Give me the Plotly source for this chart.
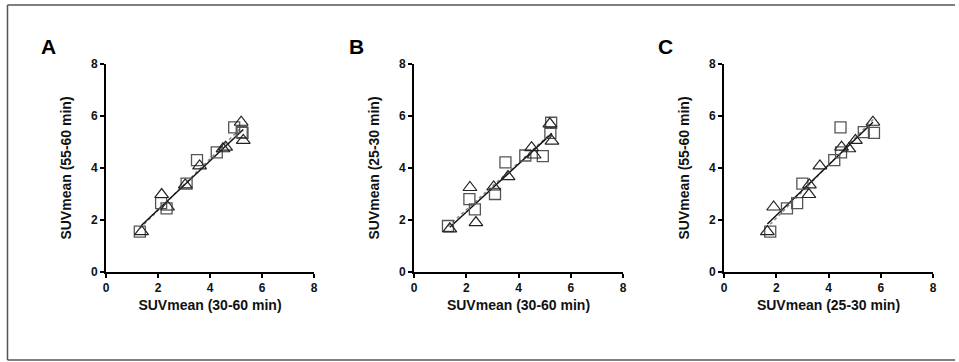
import numpy as np
import plotly.graph_objects as go

# Square group: SUVmean at 30-60 min, 25-30 min, 55-60 min
sq_30_60 = [1.30, 2.12, 2.33, 3.10, 3.50, 4.26, 4.93, 5.22, 5.25]
sq_25_30 = [1.77, 2.80, 2.41, 3.00, 4.22, 4.48, 4.46, 5.35, 5.74]
sq_55_60 = [1.55, 2.65, 2.45, 3.40, 4.30, 4.60, 5.56, 5.38, 5.35]

# Triangle group
tr_30_60 = [1.37, 2.14, 2.37, 3.05, 3.60, 4.50, 4.60, 5.20, 5.28]
tr_25_30 = [1.66, 3.25, 1.90, 3.27, 3.67, 4.78, 4.50, 5.70, 5.03]
tr_55_60 = [1.55, 2.98, 2.50, 3.35, 4.08, 4.74, 4.80, 5.76, 5.06]

tick_vals = [0, 2, 4, 6, 8]
tick_text = ["0", "2", "4", "6", "8"]

panels = [
    ("A", sq_30_60, sq_55_60, tr_30_60, tr_55_60, "SUVmean (30-60 min)", "SUVmean (55-60 min)"),
    ("B", sq_30_60, sq_25_30, tr_30_60, tr_25_30, "SUVmean (30-60 min)", "SUVmean (25-30 min)"),
    ("C", sq_25_30, sq_55_60, tr_25_30, tr_55_60, "SUVmean (25-30 min)", "SUVmean (55-60 min)"),
]

W, H = 959, 362
x_px = [(106, 314), (414, 623), (724, 933)]
y_px = (64, 272)
letter_x = [39, 347, 656]


def fx(px):
    return px / W


def fy(py):
    return 1 - py / H


FONT = "Liberation Sans, Arial, sans-serif"
fig = go.Figure()
layout = dict(
    width=W, height=H, margin=dict(l=0, r=0, t=0, b=0, pad=0, autoexpand=False),
    paper_bgcolor="white", plot_bgcolor="white", showlegend=False,
    font=dict(family=FONT, color="#111"),
)
annotations = []
shapes = []

for i, (letter, sx, sy, tx, ty, xt, yt) in enumerate(panels):
    n = "" if i == 0 else str(i + 1)
    xa, ya = "x" + n, "y" + n
    # regression lines per group
    for gx, gy, col, dash in [(sx, sy, "#888888", "dot"), (tx, ty, "#111111", "solid")]:
        k, b = np.polyfit(gx, gy, 1)
        lx = np.array([min(gx), max(gx)])
        fig.add_trace(go.Scatter(x=lx, y=k * lx + b, mode="lines",
                                 line=dict(color=col, width=1.5, dash=dash),
                                 xaxis=xa, yaxis=ya, hoverinfo="skip"))
    fig.add_trace(go.Scatter(x=sx, y=sy, mode="markers",
                             marker=dict(symbol="square-open", size=11, color="#555555",
                                         line=dict(width=1.3, color="#555555")),
                             xaxis=xa, yaxis=ya))
    fig.add_trace(go.Scatter(x=tx, y=ty, mode="markers",
                             marker=dict(symbol="triangle-up-open", size=12, color="#222222",
                                         line=dict(width=1.2, color="#222222")),
                             xaxis=xa, yaxis=ya))
    ax_common = dict(range=[0, 8], tickvals=tick_vals,
                     ticktext=["<b>%s</b>" % t for t in tick_text],
                     showgrid=False, zeroline=False, showline=True, linecolor="black",
                     linewidth=2, ticks="outside", ticklen=4, tickwidth=2, tickcolor="black",
                     tickfont=dict(family=FONT, size=12, color="#111"), fixedrange=True,
                     automargin=False)
    layout["xaxis" + n] = dict(ax_common, domain=[fx(x_px[i][0]), fx(x_px[i][1])],
                               anchor=ya,
                               title=dict(text="<b>%s</b>" % xt, standoff=6,
                                          font=dict(family=FONT, size=14, color="#111")))
    layout["yaxis" + n] = dict(ax_common, domain=[fy(y_px[1]), fy(y_px[0])],
                               anchor=xa,
                               title=dict(text="<b>%s</b>" % yt, standoff=16,
                                          font=dict(family=FONT, size=14, color="#111")))
    annotations.append(dict(text="<b>%s</b>" % letter, x=fx(letter_x[i]), y=fy(46),
                            xref="paper", yref="paper", xanchor="left", yanchor="middle",
                            showarrow=False, font=dict(family=FONT, size=21, color="black")))

# frame
for (x0, y0, x1, y1) in [(7.5, 5, 955, 5), (7.5, 5, 7.5, 360), (7.5, 360, 955, 360)]:
    shapes.append(dict(type="line", xref="paper", yref="paper",
                       x0=fx(x0), x1=fx(x1), y0=fy(y0), y1=fy(y1),
                       line=dict(color="#555555", width=1.5)))

layout["annotations"] = annotations
layout["shapes"] = shapes
fig.update_layout(**layout)
fig.write_html("out.html", config={"displayModeBar": False},
               post_script="document.body.style.margin='0';document.body.style.overflow='hidden';")
